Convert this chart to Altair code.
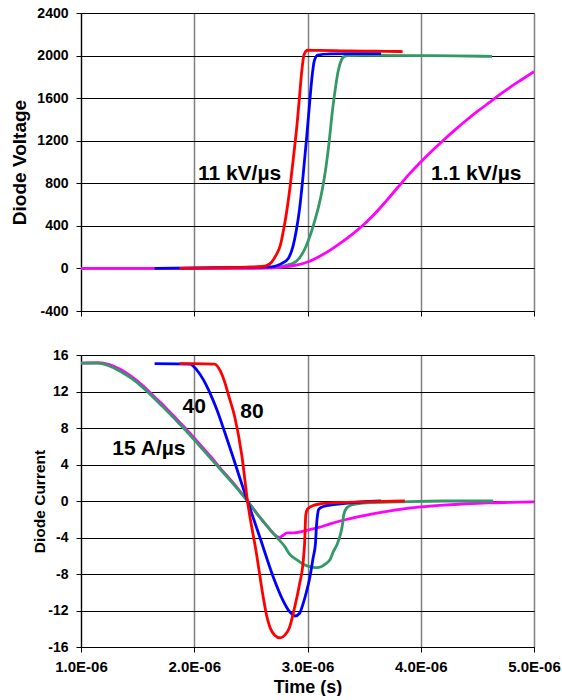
import altair as alt
import pandas as pd

FONT = "Liberation Sans"

# Time is kept in microseconds; the axis prints it as 1.0E-06 ... 5.0E-06
time_ticks = [1, 2, 3, 4, 5]
voltage_ticks = [-400, 0, 400, 800, 1200, 1600, 2000, 2400]
current_ticks = [-16, -12, -8, -4, 0, 4, 8, 12, 16]

RED, BLUE, GREEN, MAGENTA = "#FF0000", "#0000FF", "#339966", "#FF00FF"

# ---------------- Diode voltage (V) ----------------
v_red_t = [1.87, 2.2, 2.5, 2.6, 2.64, 2.68, 2.72, 2.76, 2.79, 2.82, 2.85, 2.88, 2.91,
           2.93, 2.95, 2.97, 3.0, 3.1, 3.3, 3.5, 3.7, 3.84]
v_red = [0, 5, 12, 18, 28, 55, 120, 216, 370, 560, 800, 1080, 1380,
         1620, 1860, 2010, 2050, 2048, 2045, 2042, 2040, 2038]

v_blue_t = [1.65, 2.0, 2.4, 2.65, 2.71, 2.77, 2.83, 2.87, 2.90, 2.93, 2.96, 2.99,
            3.02, 3.04, 3.06, 3.09, 3.2, 3.4, 3.65]
v_blue = [0, 5, 10, 14, 20, 45, 94, 200, 350, 560, 860, 1200,
          1570, 1800, 1950, 2005, 2015, 2018, 2018]

v_green_t = [1.0, 2.0, 2.6, 2.7, 2.78, 2.85, 2.90, 2.95, 2.99, 3.03, 3.07, 3.10, 3.13,
             3.16, 3.19, 3.22, 3.25, 3.27, 3.30, 3.33, 3.36, 3.5, 4.0, 4.3, 4.63]
v_green = [0, 0, 5, 10, 20, 40, 66, 130, 216, 330, 470, 590, 740,
           930, 1180, 1480, 1720, 1850, 1960, 1995, 2000, 2002, 2000, 1998, 1992]

v_mag_t = [1.0, 2.0, 2.6, 2.7, 2.8, 2.9, 3.0, 3.1, 3.2, 3.3, 3.4, 3.5, 3.6, 3.7, 3.8,
           3.9, 4.0, 4.1, 4.2, 4.3, 4.4, 4.5, 4.6, 4.7, 4.8, 4.9, 5.0]
v_mag = [0, 0, 2, 6, 14, 30, 60, 110, 172, 245, 325, 415, 520, 640, 765,
         888, 1000, 1105, 1205, 1300, 1390, 1475, 1555, 1635, 1710, 1780, 1850]

# ---------------- Diode current (A) ----------------
i_red_t = [1.87, 2.0, 2.18, 2.23, 2.27, 2.30, 2.36, 2.42, 2.47, 2.55, 2.61, 2.64, 2.67,
           2.71, 2.76, 2.80, 2.84, 2.88, 2.93, 2.96, 2.975, 2.985, 3.0, 3.05, 3.12, 3.2,
           3.5, 3.86]
i_red = [15.05, 15.05, 15.0, 14.25, 13.0, 11.7, 9.1, 5.0, 0.0, -5.8, -10.6, -12.6, -13.9,
         -14.7, -15.0, -14.7, -13.9, -12.0, -9.1, -6.9, -4.5, -1.5, -0.9, -0.5, -0.3, -0.2,
         -0.1, 0.0]

i_blue_t = [1.65, 1.96, 2.02, 2.08, 2.14, 2.20, 2.27, 2.34, 2.40, 2.47, 2.58, 2.70, 2.78,
            2.84, 2.89, 2.93, 2.96, 2.99, 3.02, 3.05, 3.07, 3.08, 3.09, 3.10, 3.14, 3.29, 3.65]
i_blue = [15.05, 15.0, 14.4, 13.3, 11.8, 10.0, 7.5, 4.9, 2.6, 0.0, -4.0, -8.4, -10.8,
          -12.1, -12.6, -12.3, -11.3, -10.0, -8.4, -6.2, -4.7, -2.6, -1.4, -0.9, -0.6, -0.3, 0.0]

i_green_t = [1.0, 1.15, 1.25, 1.35, 1.45, 1.55, 1.65, 1.75, 1.85, 1.95, 2.05, 2.15, 2.25,
             2.35, 2.47, 2.58, 2.66, 2.73, 2.80, 2.84, 2.90, 2.96, 3.02, 3.08, 3.12, 3.16,
             3.20, 3.23, 3.26, 3.29, 3.31, 3.32, 3.35, 3.40, 3.52, 3.8, 4.2, 4.64]
i_green = [15.1, 15.1, 14.8, 14.2, 13.4, 12.4, 11.2, 10.0, 8.7, 7.4, 6.0, 4.6, 3.2,
           1.8, 0.0, -1.8, -3.0, -4.0, -5.0, -5.8, -6.4, -6.9, -7.2, -7.3, -7.2, -6.9,
           -6.4, -5.5, -4.8, -3.7, -2.5, -1.5, -0.7, -0.4, -0.2, -0.1, 0.0, 0.0]

i_mag_t = [1.0, 1.15, 1.25, 1.35, 1.45, 1.55, 1.65, 1.75, 1.85, 1.95, 2.05, 2.15, 2.25,
           2.35, 2.47, 2.58, 2.66, 2.72, 2.75, 2.78, 2.82, 2.88, 3.0, 3.1, 3.2, 3.35, 3.5,
           3.65, 3.8, 4.0, 4.2, 4.4, 4.6, 4.8, 5.0]
i_mag = [15.1, 15.15, 14.95, 14.4, 13.6, 12.6, 11.4, 10.2, 8.9, 7.6, 6.2, 4.8, 3.3,
         1.9, 0.0, -1.8, -3.0, -3.8, -4.0, -3.8, -3.5, -3.5, -3.2, -2.9, -2.5, -2.0, -1.6,
         -1.25, -0.95, -0.65, -0.45, -0.3, -0.2, -0.15, -0.1]

# Slope annotations
v_note_text = ["11 kV/\u00b5s", "1.1 kV/\u00b5s"]
v_note_t = [2.40, 4.49]
v_note_y = [884, 884]

i_note_text = ["40", "80", "15 A/\u00b5s"]
i_note_t = [2.00, 2.51, 1.60]
i_note_y = [10.3, 9.7, 5.7]


def frame(t, y):
    return pd.DataFrame({"t": t, "y": y})


def x_enc(bottom):
    axis = alt.Axis(
        values=time_ticks,
        labels=bottom,
        title="Time (s)" if bottom else None,
        labelExpr="format(datum.value, '.1f') + 'E-06'",
        labelFlush=False, labelOverlap=False,
        grid=True, gridColor="#808080", gridWidth=1.5,
        tickSize=5, tickColor="black", domainColor="black", domainWidth=1.2,
        labelFontSize=15, labelPadding=7, titleFontSize=18, titlePadding=4,
    )
    return alt.X("t:Q", scale=alt.Scale(domain=[1, 5], nice=False, zero=False), axis=axis)


def y_enc(domain, ticks, title, title_size, title_pad):
    axis = alt.Axis(
        values=ticks, title=title, grid=True, gridColor="#000000", gridWidth=1,
        labelExpr="toString(datum.value)", labelFlush=False, labelOverlap=False,
        tickSize=5, tickColor="black", domainColor="black", domainWidth=1.2,
        labelFontSize=14, labelPadding=8, titleFontSize=title_size, titlePadding=title_pad,
    )
    return alt.Y("y:Q", scale=alt.Scale(domain=domain, nice=False, zero=False), axis=axis)


def panel(series, notes, domain, ticks, title, title_size, title_pad, bottom, height):
    xe = x_enc(bottom)
    ye = y_enc(domain, ticks, title, title_size, title_pad)
    layers = [
        alt.Chart(frame(t, y))
        .mark_line(color=c, strokeWidth=2.8, interpolate="monotone", clip=True)
        .encode(x=xe, y=ye)
        for t, y, c in series
    ]
    text_df = pd.DataFrame({"t": notes[1], "y": notes[2], "label": notes[0]})
    layers.append(
        alt.Chart(text_df).mark_text(
            font=FONT, fontWeight="bold", fontSize=21, color="black"
        ).encode(x=xe, y=ye, text="label:N")
    )
    return alt.layer(*layers).properties(width=453, height=height)


top = panel(
    [(v_green_t, v_green, GREEN), (v_mag_t, v_mag, MAGENTA),
     (v_blue_t, v_blue, BLUE), (v_red_t, v_red, RED)],
    (v_note_text, v_note_t, v_note_y),
    [-400, 2400], voltage_ticks, "Diode Voltage", 19, 7, False, 298,
)

bottom = panel(
    [(i_mag_t, i_mag, MAGENTA), (i_green_t, i_green, GREEN),
     (i_blue_t, i_blue, BLUE), (i_red_t, i_red, RED)],
    (i_note_text, i_note_t, i_note_y),
    [-16, 16], current_ticks, "Diode Current", 15.5, 0, True, 292,
)

chart = (
    alt.vconcat(top, bottom, spacing=30)
    .properties(padding={"left": 10, "top": 6, "right": 0, "bottom": 0}, background="white")
    .configure_view(stroke=None)
    .configure_axis(
        labelFont=FONT, titleFont=FONT, labelFontWeight="bold", titleFontWeight="bold",
        labelColor="black", titleColor="black",
    )
)

chart.save("out.html", embed_options={"renderer": "svg", "actions": False})
